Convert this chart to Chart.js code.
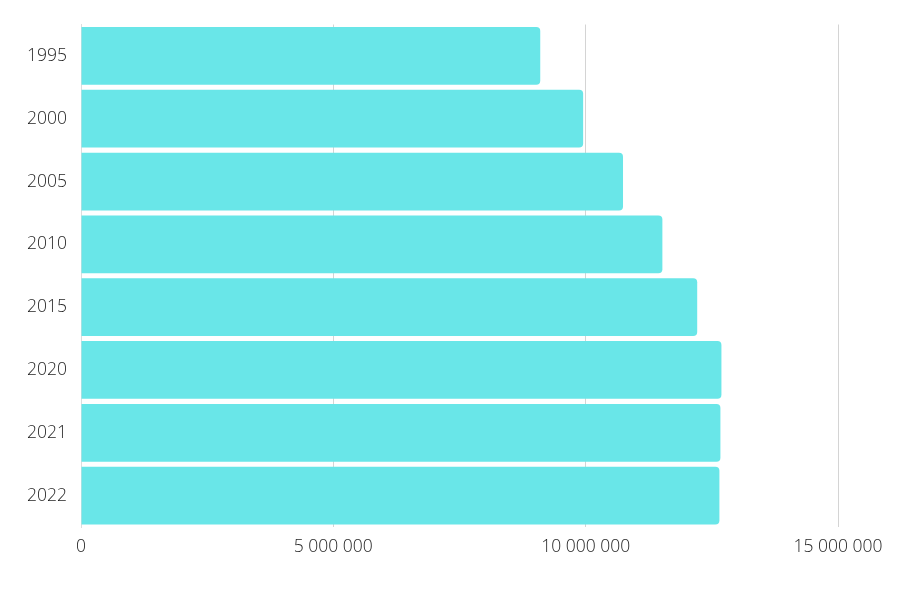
<!DOCTYPE html>
<html>
<head>
<meta charset="utf-8">
<script src="https://cdn.jsdelivr.net/npm/chart.js@4/dist/chart.umd.min.js"></script>
<style>
html,body{margin:0;padding:0;background:#fff;}
#wrap{width:900px;height:600px;position:relative;}
</style>
</head>
<body>
<div id="wrap"><canvas id="c"></canvas></div>
<script>
const categories = ['1995', '2000', '2005', '2010', '2015', '2020', '2021', '2022'];
const values = [9100000, 9950000, 10740000, 11520000, 12210000, 12690000, 12670000, 12650000];
const xTicks = [0, 5000000, 10000000, 15000000];

function fmt(v) {
  return String(Math.round(v)).replace(/\B(?=(\d{3})+(?!\d))/g, ' ');
}

new Chart(document.getElementById('c'), {
  type: 'bar',
  data: {
    labels: categories,
    datasets: [{
      data: values,
      backgroundColor: '#69e6e8',
      borderRadius: 4,
      borderSkipped: 'start',
      barPercentage: 0.92,
      categoryPercentage: 1.0
    }]
  },
  options: {
    indexAxis: 'y',
    responsive: true,
    maintainAspectRatio: false,
    animation: false,
    layout: { padding: { top: 21, right: 62, bottom: 0, left: 0 } },
    plugins: { legend: { display: false }, tooltip: { enabled: false } },
    scales: {
      x: {
        min: 0,
        max: 15000000,
        afterBuildTicks: (scale) => { scale.ticks = xTicks.map(v => ({ value: v })); },
        afterFit: (scale) => { scale.height = 73; },
        grid: { color: '#d4d4d4', drawTicks: false, lineWidth: 1 },
        border: { display: false },
        ticks: {
          padding: 10,
          color: '#1e1e1e',
          font: { family: 'Open Sans', size: 17.5, weight: 300 },
          maxRotation: 0,
          callback: (v) => fmt(v)
        }
      },
      y: {
        afterFit: (scale) => { scale.width = 81; },
        grid: { display: false, drawTicks: false },
        border: { display: true, color: '#dddddd', width: 1 },
        ticks: {
          padding: 14,
          color: '#1e1e1e',
          font: { family: 'Open Sans', size: 17.5, weight: 300 }
        }
      }
    }
  }
});
</script>
</body>
</html>
